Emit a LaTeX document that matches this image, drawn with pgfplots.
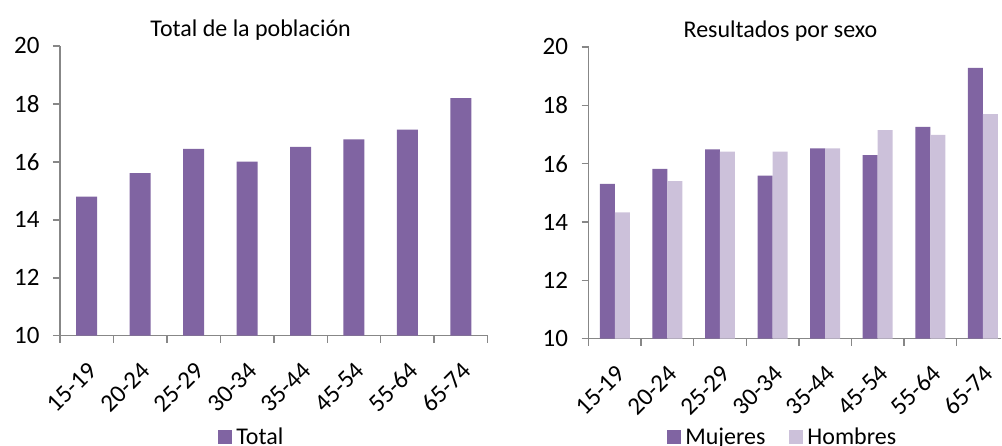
\documentclass[border=0pt]{standalone}
\usepackage{fontspec}
\setmainfont{Carlito}
\usepackage{pgfplots}
\usepackage{pgfplotstable}
\pgfplotsset{compat=1.18}
\definecolor{mujer}{HTML}{8064A2}
\definecolor{hombre}{HTML}{CCC1DA}
\definecolor{axisgray}{HTML}{878787}

\pgfplotstableread{
x total
0 14.80
1 15.61
2 16.45
3 16.01
4 16.52
5 16.78
6 17.11
7 18.20
}\totaltab

\pgfplotstableread{
x muj hom
0 15.31 14.33
1 15.82 15.40
2 16.49 16.41
3 15.59 16.41
4 16.52 16.52
5 16.29 17.15
6 17.26 16.99
7 19.28 17.70
}\sexotab

\newcommand{\fs}{\fontsize{25}{30}\selectfont}
\newcommand{\ft}{\fontsize{24}{29}\selectfont}

\pgfplotsset{
  common/.style={
    scale only axis,
    ymin=10, ymax=20, ytick={10,12,...,20},
    xmin=-0.5,
    xtick={0,...,7},
    xticklabels={15-19,20-24,25-29,30-34,35-44,45-54,55-64,65-74},
    minor xtick={-0.5,0.5,...,7.5},
    axis x line*=bottom, axis y line*=left,
    axis line style={axisgray, line width=1.5pt, -},
    every tick/.style={axisgray, line width=1.5pt},
    major x tick style={draw=none},
    tick align=outside,
    major tick length=7pt, minor tick length=7pt,
    /pgf/number format/assume math mode=true,
    ticklabel style={font=\fs, text=black},
    yticklabel style={xshift=-10pt},
    xticklabel style={rotate=45, anchor=north east, xshift=0pt},
    xticklabel shift=13pt,
    title style={font=\ft, anchor=base, yshift=3pt},
    legend style={draw=none, fill=none, font=\ft, legend columns=-1, overlay,
      /tikz/every even column/.append style={column sep=20pt},
      nodes={inner xsep=4pt}},
    enlargelimits=false,
  },
  sqleg/.style={legend image code/.code={\fill[##1] (0pt,-7pt) rectangle (14pt,7pt);}},
}

\begin{document}
\begin{tikzpicture}
\path (0pt,0pt) rectangle (1002pt,446pt);
\begin{axis}[common,
  at={(60pt,110pt)}, anchor=south west,
  width=428pt, height=290pt, xmax=7.5,
  ybar, bar width=21pt, sqleg,
  title={Total de la población},
  title style={at={(0.446,1)}},
  legend style={at={(0.451,-0.348)}, anchor=center},
]
\addplot[fill=mujer, draw=none] table[x=x, y=total] {\totaltab};
\addlegendentry{Total}
\end{axis}

\begin{axis}[common,
  at={(589pt,107pt)}, anchor=south west,
  width=413pt, height=292pt, xmax=7.35,
  ybar=0pt, bar width=15pt, sqleg,
  title={Resultados por sexo},
  title style={at={(0.465,1)}},
  legend style={at={(0.473,-0.336)}, anchor=center},
]
\addplot[fill=mujer, draw=none] table[x=x, y=muj] {\sexotab};
\addlegendentry{Mujeres}
\addplot[fill=hombre, draw=none] table[x=x, y=hom] {\sexotab};
\addlegendentry{Hombres}
\end{axis}
\end{tikzpicture}
\end{document}
